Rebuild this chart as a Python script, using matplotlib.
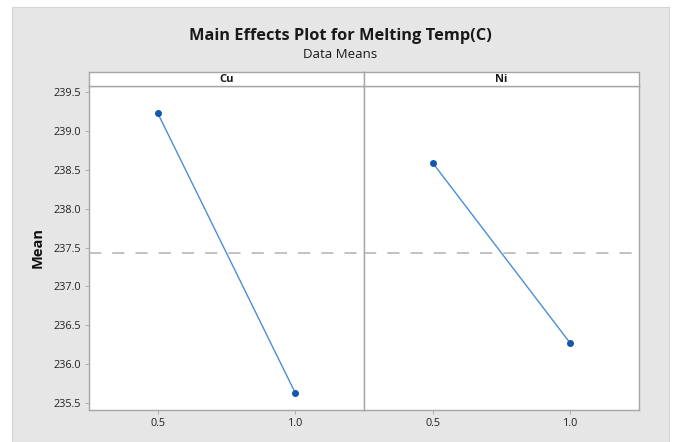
import matplotlib
matplotlib.use("Agg")
from matplotlib import pyplot as plt
from matplotlib.patches import Rectangle
import numpy as np

# Daten
factors = ["Cu", "Ni"]
levels = [0.5, 1.0]
level_labels = ["0.5", "1.0"]
cu_means = [239.23, 235.63]
ni_means = [238.59, 236.27]
grand_mean = 237.43
y_ticks = [235.5, 236.0, 236.5, 237.0, 237.5, 238.0, 238.5, 239.0, 239.5]

plt.rcParams['font.family'] = ['Open Sans', 'DejaVu Sans']

W, H = 675, 442
fig = plt.figure(figsize=(W / 100, H / 100), dpi=100, facecolor='white')

# grauer Hintergrund wie bei Minitab
fig.patches.append(Rectangle((12 / W, 0), (669 - 12) / W, (H - 7) / H,
                             transform=fig.transFigure, facecolor='#e6e6e6',
                             edgecolor='#d4d4d4', linewidth=0.8, zorder=-5))

fig.text(340 / W, 1 - 36 / H, "Main Effects Plot for Melting Temp(C)",
         ha='center', va='center', fontsize=11.8, fontweight='bold', color='#1a1a1a')
fig.text(340 / W, 1 - 55 / H, "Data Means", ha='center', va='center',
         fontsize=9.5, color='#1a1a1a')

left, mid, right = 89 / W, 364 / W, 639 / W
bottom, top, strip_top = 1 - 410 / H, 1 - 86 / H, 1 - 72 / H
frame_col = '#a6a6a6'

series = [cu_means, ni_means]
for k, name in enumerate(factors):
    x0 = left if k == 0 else mid
    w = (mid - left) if k == 0 else (right - mid)
    ax = fig.add_axes([x0, bottom, w, top - bottom])
    ax.set_facecolor('white')
    ax.plot(levels, series[k], color='#4a8ed8', linewidth=1.0, zorder=3)
    ax.plot(levels, series[k], linestyle='none', marker='o', markersize=4,
            color='#1458ad', zorder=4)
    ax.axhline(grand_mean, color='#b2b2b2', linewidth=1.1, dashes=(8, 7.2), zorder=2)
    ax.set_xlim(0.25, 1.25)
    ax.set_ylim(235.41, 239.58)
    ax.set_xticks(levels)
    ax.set_xticklabels(level_labels)
    ax.set_yticks(y_ticks)
    if k == 0:
        ax.set_yticklabels([f"{v:.1f}" for v in y_ticks])
        ax.set_ylabel("Mean", fontsize=10.5, fontweight='bold', labelpad=6, color='#111111')
    else:
        ax.tick_params(axis='y', left=False, labelleft=False)
    ax.tick_params(axis='both', labelsize=7.8, colors='#222222', length=3,
                   width=0.6, color=frame_col, pad=3)
    for s in ax.spines.values():
        s.set_color(frame_col)
        s.set_linewidth(1.0)

    # Kopfzeile mit Faktorname
    sax = fig.add_axes([x0, top, w, strip_top - top])
    sax.set_facecolor('white')
    sax.set_xticks([])
    sax.set_yticks([])
    for s in sax.spines.values():
        s.set_color(frame_col)
        s.set_linewidth(1.0)
    sax.text(0.5, 0.5, name, ha='center', va='center', fontsize=8,
             fontweight='bold', color='#1a1a1a', transform=sax.transAxes)

fig.savefig("out.png", dpi=100, facecolor=fig.get_facecolor())
